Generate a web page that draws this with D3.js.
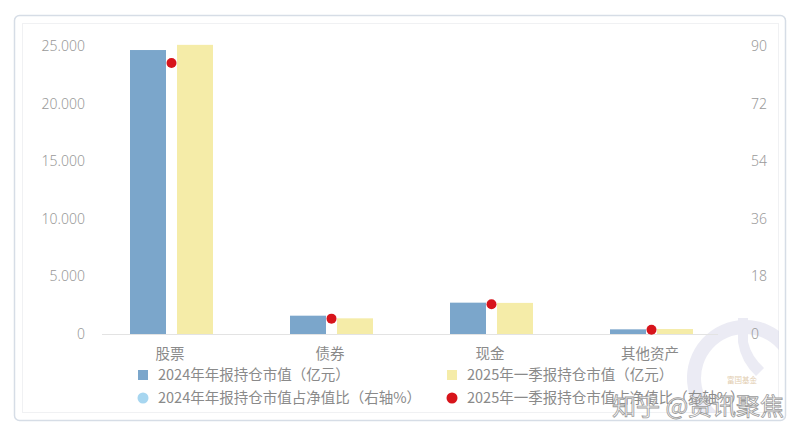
<!DOCTYPE html>
<html><head><meta charset="utf-8">
<script src="https://cdn.jsdelivr.net/npm/d3@7/dist/d3.min.js"></script>
<style>
html,body{margin:0;padding:0;background:#fff;}
svg{display:block;font-family:"Noto Sans CJK SC","Noto Sans",sans-serif;}
</style></head>
<body><svg id="c" width="800" height="436"></svg>
<script>
const categories = ["股票","债券","现金","其他资产"];
const value2024 = [24650, 1590, 2720, 405];
const value2025 = [25100, 1360, 2700, 430];
const ratio2024 = [null, null, null, null];
const ratio2025 = [84.7, 4.8, 9.3, 1.35];
const leftTicks = [0, 5000, 10000, 15000, 20000, 25000];
const rightTicks = [0, 18, 36, 54, 72, 90];
const seriesNames = ["2024年年报持仓市值（亿元）","2025年一季报持仓市值（亿元）","2024年年报持仓市值占净值比（右轴%）","2025年一季报持仓市值占净值比（右轴%）"];
const colors = ["#7ba6cb","#f5eca8","#a7d6f0","#d7141b"];

const svg = d3.select("#c");
// card
svg.append("rect").attr("x",14.5).attr("y",15.5).attr("width",771).attr("height",405).attr("rx",5)
  .attr("fill","#fff").attr("stroke","#d6dde6").attr("stroke-width",1.5);
svg.append("rect").attr("x",22.5).attr("y",23.5).attr("width",756).attr("height",389)
  .attr("fill","none").attr("stroke","#f0f1f3").attr("stroke-width",1);

svg.append("clipPath").attr("id","cardclip").append("rect").attr("x",22).attr("y",23).attr("width",757).attr("height",390);

const x = d3.scaleBand().domain(categories).range([90,730]);
const yL = d3.scaleLinear().domain([0,25000]).range([334,46]);
const yR = d3.scaleLinear().domain([0,90]).range([334,46]);

// faint watermark logo
const logo = svg.append("g").attr("opacity",0.5).attr("clip-path","url(#cardclip)");
logo.append("path").attr("d", d3.arc()({innerRadius:44,outerRadius:58,startAngle:-2.5,endAngle:2.5}))
  .attr("transform","translate(745,378)").attr("fill","#d8d8ea");
logo.append("path").attr("d","M738,318 L748,318 L748,342 Q751,356 764,368 L756,376 Q741,362 738,342 Z").attr("fill","#d8d8ea");

// baseline
svg.append("line").attr("x1",102).attr("x2",718).attr("y1",334.5).attr("y2",334.5)
  .attr("stroke","#e3e3e3").attr("stroke-width",1);

const fmt = d => d===0 ? "0" : d3.format(",")(d).replace(/,/g,".");
// left axis
const axL = d3.axisLeft(yL).tickValues(leftTicks).tickFormat(fmt).tickSize(0).tickPadding(0);
const gL = svg.append("g").attr("transform","translate(85,0)").call(axL);
gL.select(".domain").remove();
gL.selectAll("text").attr("font-size",14).attr("fill","#9a9a9a").attr("font-family","'Noto Sans','Open Sans',sans-serif").attr("font-weight",300);
// right axis
const axR = d3.axisRight(yR).tickValues(rightTicks).tickSize(0).tickPadding(0);
const gR = svg.append("g").attr("transform","translate(751,0)").call(axR);
gR.select(".domain").remove();
gR.selectAll("text").attr("font-size",14).attr("fill","#9a9a9a").attr("font-family","'Noto Sans','Open Sans',sans-serif").attr("font-weight",300);

// bars
const bw = 36;
svg.append("g").selectAll("rect").data(categories).join("rect")
  .attr("x",(d)=>x(d)+x.bandwidth()/2-40).attr("width",bw)
  .attr("y",(d,i)=>yL(value2024[i])).attr("height",(d,i)=>334-yL(value2024[i]))
  .attr("fill",colors[0]);
svg.append("g").selectAll("rect").data(categories).join("rect")
  .attr("x",(d)=>x(d)+x.bandwidth()/2+7).attr("width",bw)
  .attr("y",(d,i)=>yL(value2025[i])).attr("height",(d,i)=>334-yL(value2025[i]))
  .attr("fill",colors[1]);
// points
svg.append("g").selectAll("circle").data(categories.filter((d,i)=>ratio2024[i]!=null)).join("circle")
  .attr("cx",d=>x(d)+x.bandwidth()/2).attr("cy",d=>yR(ratio2024[categories.indexOf(d)])).attr("r",5).attr("fill",colors[2]);
svg.append("g").selectAll("circle").data(categories).join("circle")
  .attr("cx",d=>x(d)+x.bandwidth()/2+1.5).attr("cy",(d,i)=>yR(ratio2025[i])).attr("r",5).attr("fill",colors[3]);

// category labels
svg.append("g").selectAll("text").data(categories).join("text")
  .attr("x",d=>x(d)+x.bandwidth()/2).attr("y",359).attr("text-anchor","middle")
  .attr("font-size",14.5).attr("fill","#8a8a8a").text(d=>d);

// legend
const legPos = [[138,375],[447,375],[138,398],[447,398]];
const lg = svg.append("g");
seriesNames.forEach((n,i)=>{
  const [lx,ly] = legPos[i];
  if(i<2) lg.append("rect").attr("x",lx).attr("y",ly-5).attr("width",10).attr("height",10).attr("fill",colors[i]);
  else lg.append("circle").attr("cx",lx+5).attr("cy",ly).attr("r",5.5).attr("fill",colors[i]);
  lg.append("text").attr("x",lx+20).attr("y",ly+5).attr("font-size",14.5).attr("fill","#8a8a8a").text(n);
});

// watermark
svg.append("text").attr("x",727).attr("y",383).attr("font-size",7.5).attr("fill","#e2cdb0").text("富国基金");
svg.append("text").attr("x",612).attr("y",415).attr("font-size",24).attr("fill","rgba(255,255,255,0.85)")
  .attr("stroke","#9a9a9a").attr("stroke-width",0.8).text("知乎 @资讯聚焦");
</script></body></html>
